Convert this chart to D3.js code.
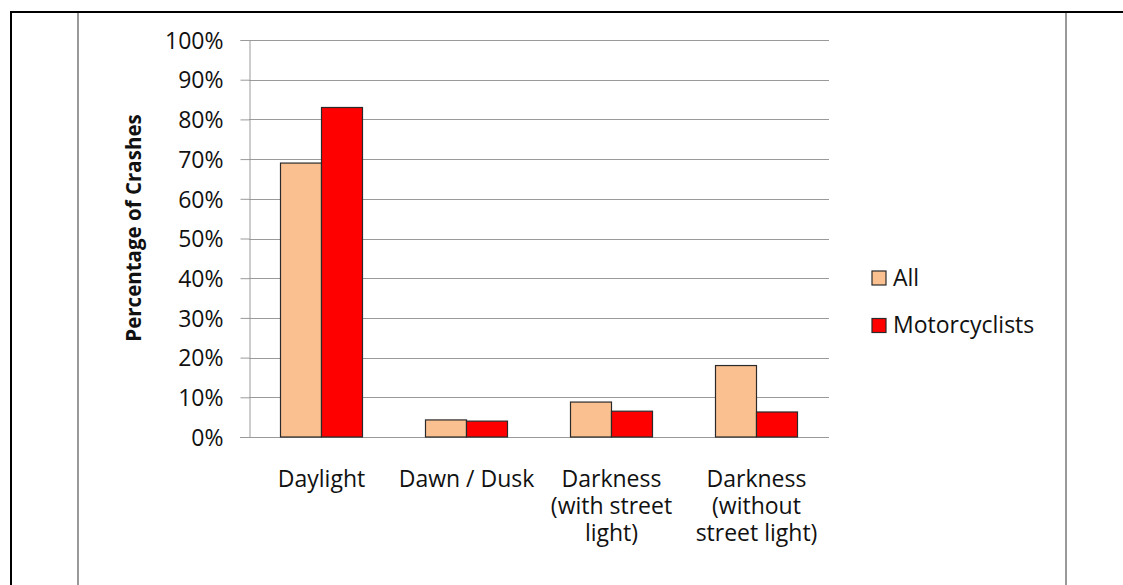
<!DOCTYPE html>
<html>
<head>
<meta charset="utf-8">
<script src="https://cdnjs.cloudflare.com/ajax/libs/d3/7.8.5/d3.min.js"></script>
<style>
  html, body { margin: 0; padding: 0; background: #fff; }
  svg { display: block; }
  text { font-family: "Open Sans", sans-serif; fill: #111; }
</style>
</head>
<body>
<svg id="chart" width="1123" height="585"></svg>
<script>
// Lighting conditions at time of crash
const categories = [
  ["Daylight"],
  ["Dawn / Dusk"],
  ["Darkness", "(with street", "light)"],
  ["Darkness", "(without", "street light)"]
];
const seriesNames = ["All", "Motorcyclists"];
const allValues = [69, 4.3, 8.8, 18.0];
const motorcyclistValues = [83, 4.0, 6.5, 6.3];
const yTicks = [0, 10, 20, 30, 40, 50, 60, 70, 80, 90, 100];
const seriesColors = ["#FAC090", "#FF0000"];

const svg = d3.select("#chart");

// page frame lines
svg.append("line").attr("x1", 10).attr("x2", 1123).attr("y1", 12).attr("y2", 12)
  .attr("stroke", "#000").attr("stroke-width", 2);
svg.append("line").attr("x1", 11).attr("x2", 11).attr("y1", 11).attr("y2", 585)
  .attr("stroke", "#000").attr("stroke-width", 2);
[78, 1066].forEach(x => {
  svg.append("line").attr("x1", x).attr("x2", x).attr("y1", 13).attr("y2", 585)
    .attr("stroke", "#999").attr("stroke-width", 2);
});

const plot = { left: 249, right: 829, top: 40, bottom: 437 };

const x0 = d3.scaleBand()
  .domain(d3.range(categories.length))
  .range([plot.left, plot.right])
  .paddingInner(0.4345)
  .paddingOuter(0.4345 / 2);

const x1 = d3.scaleBand()
  .domain(seriesNames)
  .range([0, x0.bandwidth()]);

const y = d3.scaleLinear().domain([0, 100]).range([plot.bottom, plot.top]);

// gridlines
svg.append("g")
  .selectAll("line")
  .data(yTicks.filter(t => t > 0))
  .join("line")
  .attr("x1", plot.left).attr("x2", plot.right)
  .attr("y1", d => Math.round(y(d)) + 0.5).attr("y2", d => Math.round(y(d)) + 0.5)
  .attr("stroke", "#9a9a9a").attr("stroke-width", 1);

// y axis
const yAxis = svg.append("g")
  .attr("transform", `translate(${plot.left + 0.5},0)`)
  .call(d3.axisLeft(y).tickValues(yTicks).tickFormat(d => d + "%").tickSize(9).tickPadding(17));
yAxis.select(".domain").attr("stroke", "#9a9a9a");
yAxis.selectAll(".tick line").attr("stroke", "#9a9a9a");
yAxis.selectAll(".tick text")
  .attr("font-family", "'Open Sans', sans-serif")
  .attr("font-size", "23px")
  .attr("fill", "#111")
  .attr("dy", "0.36em");

// x axis baseline
svg.append("line")
  .attr("x1", plot.left - 9).attr("x2", plot.right)
  .attr("y1", Math.round(y(0)) + 0.5).attr("y2", Math.round(y(0)) + 0.5)
  .attr("stroke", "#9a9a9a").attr("stroke-width", 1);

// bars
const rows = categories.map((c, i) => ({
  i,
  values: [
    { name: seriesNames[0], value: allValues[i] },
    { name: seriesNames[1], value: motorcyclistValues[i] }
  ]
}));
const color = d3.scaleOrdinal().domain(seriesNames).range(seriesColors);

svg.append("g")
  .selectAll("g")
  .data(rows)
  .join("g")
  .attr("transform", d => `translate(${x0(d.i)},0)`)
  .selectAll("rect")
  .data(d => d.values)
  .join("rect")
  .attr("x", d => x1(d.name))
  .attr("width", x1.bandwidth())
  .attr("y", d => y(d.value))
  .attr("height", d => y(0) - y(d.value))
  .attr("fill", d => color(d.name))
  .attr("stroke", "#2a2a2a")
  .attr("stroke-width", 1.2);

// category labels
const labels = svg.append("g")
  .selectAll("text")
  .data(categories)
  .join("text")
  .attr("text-anchor", "middle")
  .attr("font-size", "23px")
  .attr("y", 487);
labels.selectAll("tspan")
  .data((d, i) => d.map(line => ({ line, i })))
  .join("tspan")
  .attr("x", d => x0(d.i) + x0.bandwidth() / 2)
  .attr("dy", (d, j) => j === 0 ? 0 : 27)
  .text(d => d.line);

// axis title
svg.append("text")
  .attr("transform", "translate(141,228) rotate(-90)")
  .attr("text-anchor", "middle")
  .attr("font-size", "20.5px")
  .attr("font-weight", "bold")
  .text("Percentage of Crashes");

// legend
const legend = svg.append("g")
  .selectAll("g")
  .data(seriesNames)
  .join("g")
  .attr("transform", (d, i) => `translate(872,${271 + i * 47.5})`);
legend.append("rect")
  .attr("width", 14).attr("height", 14)
  .attr("fill", d => color(d))
  .attr("stroke", "#2a2a2a").attr("stroke-width", 1.2);
legend.append("text")
  .attr("x", 21).attr("y", 14.5)
  .attr("font-size", "23px")
  .text(d => d);
</script>
</body>
</html>
